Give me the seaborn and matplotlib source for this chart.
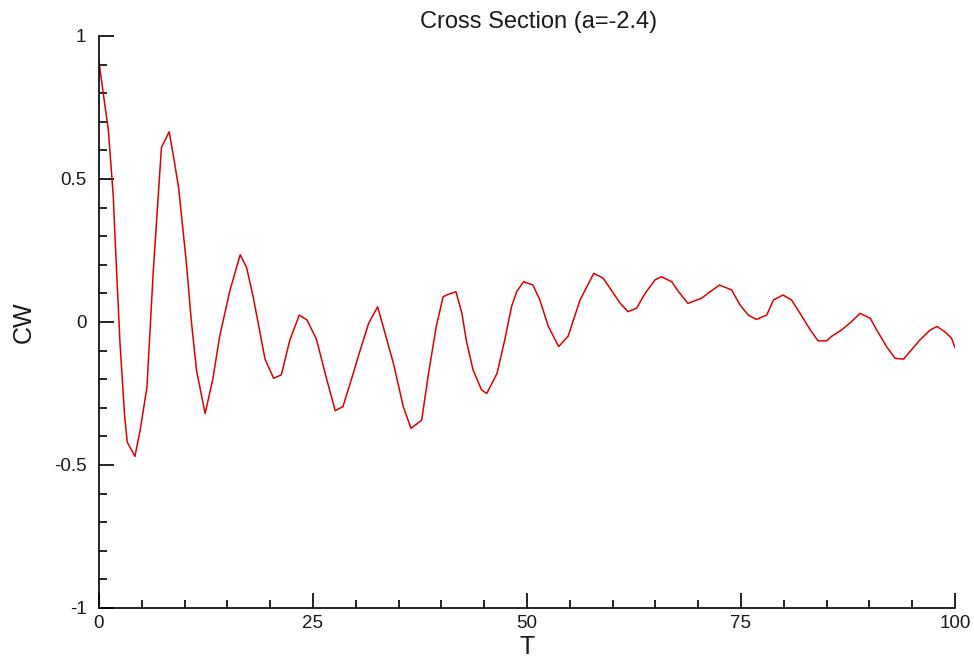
#!/usr/bin/env python3
"""Cross section plot of CW against T (a=-2.4)."""

import matplotlib

matplotlib.use("Agg")
import matplotlib.pyplot as plt
import pandas as pd
import seaborn as sns
from matplotlib.ticker import MultipleLocator

# values
T = [
    0, 0.5, 1.1, 1.67, 1.87, 2.45, 3.0, 3.3, 4.2, 4.8, 5.6, 6.35, 6.9, 7.3,
    8.2, 8.7, 9.3, 10.2, 10.8, 11.4, 12.4, 13.3, 14.1, 15.3, 16.5, 17.25,
    18.0, 19.4, 20.4, 21.3, 22.3, 23.4, 24.3, 25.4, 26.6, 27.6, 28.5, 29.7,
    30.5, 31.5, 32.55, 33.2, 34.4, 35.55, 36.45, 37.7, 38.5, 39.4, 40.2,
    40.6, 41.7, 42.4, 42.9, 43.7, 44.7, 45.3, 46.5, 47.4, 48.2, 48.8, 49.6,
    50.7, 51.5, 52.5, 53.7, 54.8, 56.2, 57.2, 57.8, 58.9, 60.1, 60.9, 61.8,
    62.8, 63.8, 64.95, 65.7, 66.9, 67.7, 68.8, 70.4, 71.4, 72.5, 73.9, 74.9,
    75.85, 76.8, 78.0, 78.8, 79.9, 80.9, 81.9, 83.1, 84.0, 85.0, 85.6,
    86.75, 87.9, 88.9, 90.1, 90.85, 92.0, 93.0, 94.0, 94.55, 95.9, 97.1,
    97.9, 98.8, 99.6, 100,
]
CW = [
    0.91, 0.80, 0.67, 0.44, 0.30, -0.07, -0.33, -0.42, -0.47, -0.38, -0.23,
    0.18, 0.43, 0.61, 0.665, 0.58, 0.47, 0.21, 0.0, -0.17, -0.32, -0.20,
    -0.05, 0.11, 0.235, 0.19, 0.09, -0.13, -0.197, -0.185, -0.063, 0.024,
    0.007, -0.06, -0.20, -0.31, -0.296, -0.18, -0.10, -0.005, 0.053, -0.016,
    -0.145, -0.296, -0.372, -0.343, -0.18, -0.016, 0.088, 0.094, 0.106,
    0.03, -0.063, -0.168, -0.238, -0.25, -0.18, -0.063, 0.054, 0.106, 0.141,
    0.129, 0.077, -0.016, -0.086, -0.05, 0.077, 0.135, 0.17, 0.153, 0.10,
    0.065, 0.036, 0.048, 0.10, 0.147, 0.158, 0.141, 0.106, 0.065, 0.083,
    0.106, 0.129, 0.112, 0.059, 0.024, 0.009, 0.024, 0.077, 0.094, 0.077,
    0.03, -0.028, -0.066, -0.066, -0.05, -0.028, 0.001, 0.03, 0.013, -0.028,
    -0.086, -0.127, -0.13, -0.11, -0.063, -0.028, -0.016, -0.034, -0.057,
    -0.09,
]
X_TICKS = [0, 25, 50, 75, 100]
Y_TICKS = [-1, -0.5, 0, 0.5, 1]
Y_TICK_LABELS = ["-1", "-0.5", "0", "0.5", "1"]


def main() -> None:
    sns.set_theme(style="ticks")
    plt.rcParams["font.family"] = ["Liberation Sans", "DejaVu Sans"]

    df = pd.DataFrame({"T": T, "CW": CW})

    fig = plt.figure(figsize=(9.74, 6.58), dpi=100)
    ax = fig.add_axes([0.1016, 0.076, 0.8789, 0.8694])
    sns.lineplot(data=df, x="T", y="CW", sort=False, estimator=None,
                 color="#dd0000", linewidth=1.1, ax=ax)

    ax.set_xlim(0, 100)
    ax.set_ylim(-1, 1)
    ax.set_xticks(X_TICKS)
    ax.set_xticklabels([str(t) for t in X_TICKS])
    ax.set_yticks(Y_TICKS)
    ax.set_yticklabels(Y_TICK_LABELS)
    ax.xaxis.set_minor_locator(MultipleLocator(5))
    ax.yaxis.set_minor_locator(MultipleLocator(0.1))

    for side in ("top", "right"):
        ax.spines[side].set_visible(False)
    for side in ("left", "bottom"):
        ax.spines[side].set_color("black")
        ax.spines[side].set_linewidth(1.2)

    ax.tick_params(which="major", direction="in", length=11, width=1.2,
                   color="black", labelsize=13.5, labelcolor="#1a1a1a")
    ax.tick_params(axis="x", which="major", pad=5)
    ax.tick_params(axis="y", which="major", pad=9)
    ax.tick_params(which="minor", direction="in", length=6, width=1.2,
                   color="black")

    ax.set_xlabel("T", fontsize=18, labelpad=2, color="#1a1a1a")
    ax.set_ylabel("CW", fontsize=18, labelpad=13, color="#1a1a1a")
    ax.set_title("Cross Section (a=-2.4)", fontsize=17, pad=6,
                 color="#1a1a1a", x=0.514)

    fig.savefig("out.png", dpi=100)
    plt.close(fig)


if __name__ == "__main__":
    main()
